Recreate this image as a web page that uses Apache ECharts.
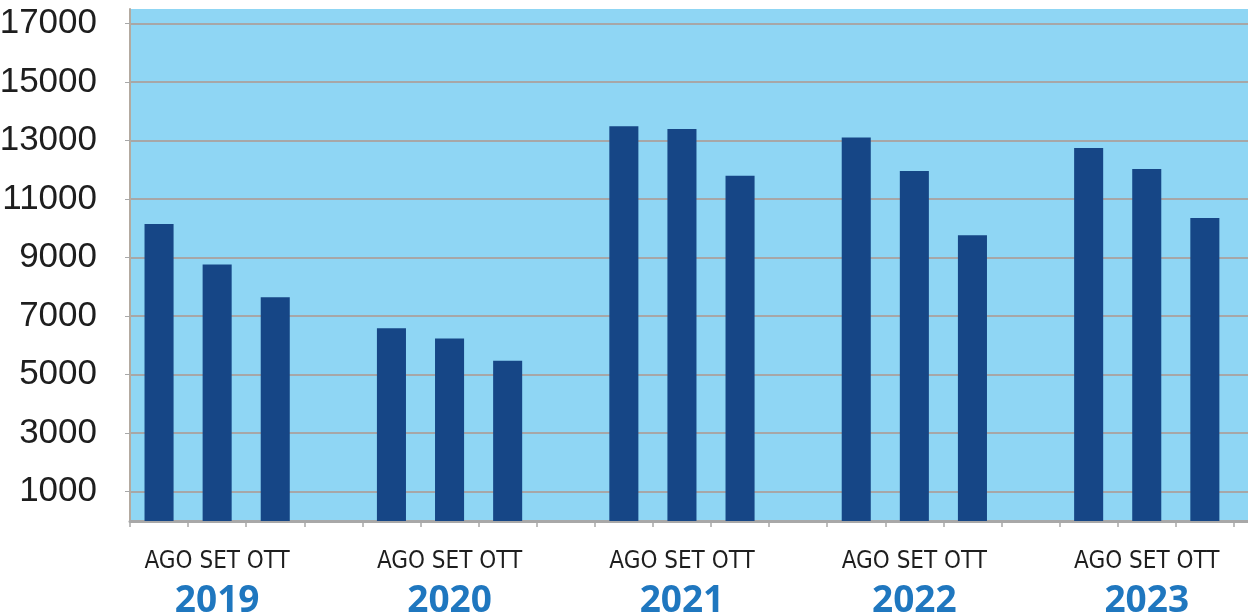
<!DOCTYPE html>
<html>
<head>
<meta charset="utf-8">
<script src="https://cdn.jsdelivr.net/npm/echarts@6/dist/echarts.min.js"></script>
<style>
  html, body { margin: 0; padding: 0; background: #ffffff; }
  #chart { width: 1248px; height: 616px; }
</style>
</head>
<body>
<div id="chart"></div>
<script>
// data
const years = ["2019", "2020", "2021", "2022", "2023"];
const months = ["AGO", "SET", "OTT"];
const values = {
  "2019": [10150, 8770, 7650],
  "2020": [6590, 6240, 5480],
  "2021": [13490, 13400, 11800],
  "2022": [13110, 11960, 9770],
  "2023": [12750, 12030, 10360]
};
const yTicks = [1000, 3000, 5000, 7000, 9000, 11000, 13000, 15000, 17000];

// each year takes 3 month slots plus one empty gap slot
const categories = [];
const barData = [];
years.forEach(function (yr) {
  months.forEach(function (m, i) {
    categories.push(m + " " + yr);
    barData.push(values[yr][i]);
  });
  categories.push("gap " + yr);
  barData.push("-");
});

const chart = echarts.init(document.getElementById("chart"), null, { renderer: "canvas" });

chart.setOption({
  animation: false,
  grid: {
    left: 130,
    top: 9,
    bottom: 95,
    right: -44,
    outerBoundsMode: "none",
    containLabel: false,
    show: true,
    backgroundColor: "#8fd6f4",
    borderWidth: 0
  },
  xAxis: {
    type: "category",
    data: categories,
    axisLine: { lineStyle: { color: "#a8a8a8", width: 3 } },
    axisTick: { show: true, length: 6, lineStyle: { color: "#a8a8a8", width: 1.5 } },
    axisLabel: {
      interval: 0,
      margin: 25,
      formatter: function (v) {
        const parts = v.split(" ");
        if (parts[0] === "SET") {
          return "{m|" + months.join(" ") + "}\n{y|" + parts[1] + "}";
        }
        return "";
      },
      rich: {
        m: {
          fontFamily: "DejaVu Sans Condensed, sans-serif",
          fontSize: 24,
          color: "#1e1e1e",
          lineHeight: 32
        },
        y: {
          fontFamily: "Open Sans, sans-serif",
          fontWeight: "bold",
          fontSize: 37,
          color: "#1f77bf",
          lineHeight: 46
        }
      }
    }
  },
  yAxis: {
    type: "value",
    min: 0,
    max: 17500,
    axisLine: { show: true, lineStyle: { color: "#b3aaa0", width: 2 } },
    axisTick: { show: true, length: 5, customValues: yTicks, lineStyle: { color: "#a8a8a8" } },
    axisLabel: {
      customValues: yTicks,
      margin: 33,
      formatter: function (v) { return String(v); },
      fontFamily: "Liberation Sans, sans-serif",
      fontSize: 35,
      color: "#1e1e1e"
    },
    splitLine: { show: true, lineStyle: { color: "#a7a7a7", width: 2 } }
  },
  series: [{
    type: "bar",
    data: barData,
    barWidth: "50%",
    itemStyle: { color: "#164686" }
  }]
});

window.addEventListener("resize", function () { chart.resize(); });
</script>
</body>
</html>
